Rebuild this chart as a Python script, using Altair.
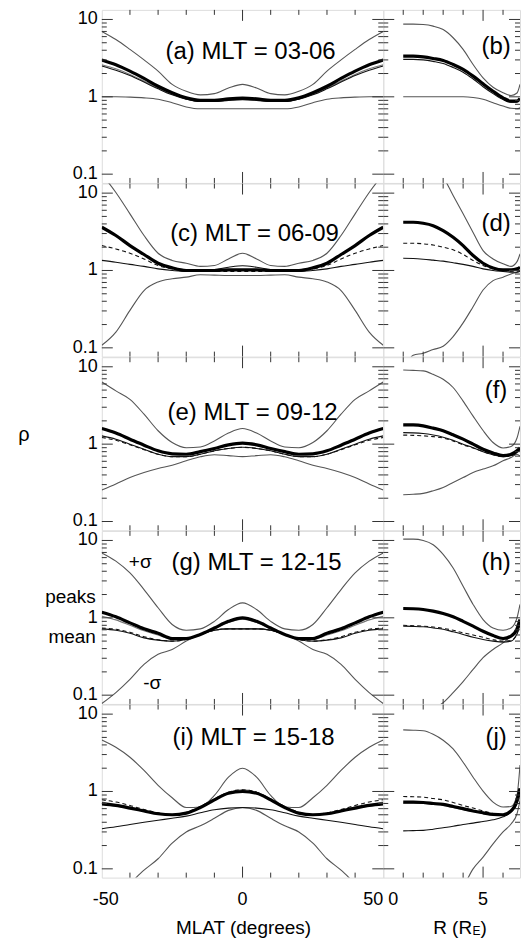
import altair as alt
import pandas as pd

FONT = "Liberation Sans"

# ---------------- data ----------------
MLAT = [-50, -45, -40, -35, -30, -25, -20, -15, -10, -5, 0, 5, 10, 15, 20, 25, 30, 35, 40, 45, 50]
R = [1, 1.5, 2, 2.5, 3, 3.5, 4, 4.5, 5, 5.5, 6, 6.4, 6.7, 6.85]

# (a) MLT 03-06
a_plus = [7.0, 5.5, 4.1, 3.0, 2.15, 1.45, 1.18, 1.06, 1.1, 1.3, 1.45, 1.3, 1.1, 1.06, 1.18, 1.45, 2.15, 3.0, 4.1, 5.5, 7.0]
a_peak = [3.0, 2.6, 2.15, 1.73, 1.37, 1.13, 0.97, 0.9, 0.9, 0.94, 0.96, 0.94, 0.9, 0.9, 0.97, 1.13, 1.37, 1.73, 2.15, 2.6, 3.0]
a_near = [2.6, 2.3, 1.95, 1.6, 1.3, 1.08, 0.94, 0.88, 0.88, 0.91, 0.93, 0.91, 0.88, 0.88, 0.94, 1.08, 1.3, 1.6, 1.95, 2.3, 2.6]
a_mean = [2.5, 2.2, 1.88, 1.55, 1.27, 1.06, 0.93, 0.87, 0.87, 0.9, 0.92, 0.9, 0.87, 0.87, 0.93, 1.06, 1.27, 1.55, 1.88, 2.2, 2.5]
a_minus = [1.0, 1.0, 0.99, 0.97, 0.93, 0.84, 0.74, 0.7, 0.7, 0.7, 0.7, 0.7, 0.7, 0.7, 0.74, 0.84, 0.93, 0.97, 0.99, 1.0, 1.0]
# (b)
b_plus = [8.7, 8.7, 8.6, 8.2, 7.4, 5.8, 4.1, 2.62, 1.76, 1.33, 1.13, 1.04, 1.12, 1.45]
b_peak = [3.35, 3.35, 3.28, 3.13, 2.95, 2.62, 2.26, 1.85, 1.47, 1.18, 0.97, 0.88, 0.88, 0.95]
b_mean = [3.05, 3.05, 3.0, 2.87, 2.7, 2.4, 2.08, 1.7, 1.35, 1.1, 0.92, 0.85, 0.86, 0.93]
b_minus = [1.0, 1.0, 1.0, 1.0, 1.0, 1.0, 1.0, 0.98, 0.93, 0.84, 0.76, 0.71, 0.7, 0.72]

# (c) MLT 06-09
c_plus = [17.6, 10.2, 5.4, 2.83, 1.67, 1.35, 1.24, 1.13, 1.16, 1.41, 1.67, 1.41, 1.16, 1.13, 1.24, 1.35, 1.67, 2.83, 5.4, 10.2, 17.6]
c_peak = [3.62, 2.83, 2.1, 1.61, 1.24, 1.08, 1.0, 1.0, 1.0, 1.02, 1.02, 1.02, 1.0, 1.0, 1.0, 1.08, 1.24, 1.61, 2.1, 2.83, 3.62]
c_dash = [2.1, 1.9, 1.67, 1.41, 1.16, 1.05, 0.98, 0.97, 0.97, 0.97, 0.97, 0.97, 0.97, 0.97, 0.98, 1.05, 1.16, 1.41, 1.67, 1.9, 2.1]
c_mean = [1.35, 1.28, 1.2, 1.13, 1.05, 1.0, 0.97, 0.98, 1.03, 1.1, 1.15, 1.1, 1.03, 0.98, 0.97, 1.0, 1.05, 1.13, 1.2, 1.28, 1.35]
c_minus = [0.108, 0.16, 0.305, 0.55, 0.71, 0.78, 0.82, 0.88, 0.87, 0.86, 0.86, 0.86, 0.87, 0.88, 0.82, 0.78, 0.71, 0.55, 0.305, 0.16, 0.108]
# (d)
d_plus = [30, 28, 25, 20, 16, 9.3, 5.4, 3.1, 1.81, 1.41, 1.22, 1.13, 1.3, 1.64]
d_peak = [4.2, 4.2, 4.08, 3.8, 3.28, 2.69, 2.1, 1.56, 1.24, 1.08, 1.02, 1.02, 1.05, 1.1]
d_dash = [2.25, 2.25, 2.21, 2.14, 2.0, 1.85, 1.61, 1.35, 1.16, 1.05, 1.0, 0.98, 0.98, 1.0]
d_mean = [1.44, 1.43, 1.4, 1.36, 1.32, 1.26, 1.2, 1.13, 1.05, 1.0, 0.97, 0.95, 0.95, 0.97]
d_minus = [0.05, 0.08, 0.085, 0.095, 0.105, 0.14, 0.21, 0.34, 0.56, 0.74, 0.82, 0.9, 0.95, 0.98]

# (e) MLT 09-12
e_plus = [6.36, 4.88, 3.8, 2.44, 1.49, 1.05, 0.9, 0.92, 1.1, 1.39, 1.59, 1.39, 1.1, 0.92, 0.9, 1.05, 1.49, 2.44, 3.8, 4.88, 6.36]
e_peak = [1.59, 1.39, 1.16, 0.97, 0.82, 0.75, 0.74, 0.8, 0.88, 0.98, 1.03, 0.98, 0.88, 0.8, 0.74, 0.75, 0.82, 0.97, 1.16, 1.39, 1.59]
e_mean = [1.28, 1.16, 1.0, 0.86, 0.74, 0.69, 0.69, 0.74, 0.82, 0.88, 0.91, 0.88, 0.82, 0.74, 0.69, 0.69, 0.74, 0.86, 1.0, 1.16, 1.28]
e_dash = [1.22, 1.12, 0.98, 0.85, 0.74, 0.69, 0.69, 0.74, 0.82, 0.88, 0.91, 0.88, 0.82, 0.74, 0.69, 0.69, 0.74, 0.85, 0.98, 1.12, 1.22]
e_minus = [0.255, 0.305, 0.37, 0.43, 0.485, 0.535, 0.61, 0.686, 0.73, 0.71, 0.69, 0.71, 0.73, 0.686, 0.61, 0.535, 0.485, 0.43, 0.37, 0.305, 0.255]
# (f)
f_plus = [9.1, 9.0, 8.85, 8.0, 6.9, 5.4, 3.6, 2.3, 1.5, 1.05, 0.89, 0.93, 1.2, 1.7]
f_peak = [1.78, 1.77, 1.72, 1.61, 1.49, 1.32, 1.16, 1.0, 0.86, 0.77, 0.71, 0.74, 0.82, 0.9]
f_mean = [1.41, 1.4, 1.37, 1.31, 1.23, 1.12, 1.0, 0.9, 0.8, 0.73, 0.69, 0.71, 0.78, 0.86]
f_dash = [1.31, 1.3, 1.28, 1.25, 1.2, 1.1, 0.98, 0.89, 0.8, 0.73, 0.69, 0.71, 0.78, 0.86]
f_minus = [0.222, 0.225, 0.231, 0.25, 0.276, 0.32, 0.37, 0.43, 0.476, 0.525, 0.61, 0.67, 0.74, 0.7]

# (g) MLT 12-15
g_plus = [6.9, 5.4, 3.8, 2.32, 1.35, 0.82, 0.69, 0.72, 0.9, 1.28, 1.56, 1.28, 0.9, 0.72, 0.69, 0.82, 1.35, 2.32, 3.8, 5.4, 6.9]
g_peak = [1.18, 1.03, 0.86, 0.72, 0.63, 0.54, 0.54, 0.61, 0.74, 0.9, 1.0, 0.9, 0.74, 0.61, 0.54, 0.54, 0.63, 0.72, 0.86, 1.03, 1.18]
g_near = [1.05, 0.94, 0.8, 0.68, 0.6, 0.53, 0.53, 0.6, 0.72, 0.87, 0.96, 0.87, 0.72, 0.6, 0.53, 0.53, 0.6, 0.68, 0.8, 0.94, 1.05]
g_mean = [0.72, 0.69, 0.63, 0.55, 0.515, 0.5, 0.525, 0.61, 0.69, 0.72, 0.72, 0.72, 0.69, 0.61, 0.525, 0.5, 0.515, 0.55, 0.63, 0.69, 0.72]
g_dash = [0.74, 0.71, 0.65, 0.57, 0.52, 0.5, 0.525, 0.61, 0.69, 0.72, 0.72, 0.72, 0.69, 0.61, 0.525, 0.5, 0.52, 0.57, 0.65, 0.71, 0.74]
g_minus = [0.078, 0.108, 0.16, 0.25, 0.337, 0.39, 0.5, 0.61, 0.69, 0.72, 0.72, 0.72, 0.69, 0.61, 0.5, 0.39, 0.337, 0.25, 0.16, 0.108, 0.078]
# (h)
h_plus = [10.4, 10.4, 10.0, 8.8, 6.6, 4.4, 2.56, 1.49, 0.95, 0.74, 0.69, 0.74, 1.0, 1.49]
h_peak = [1.32, 1.31, 1.28, 1.22, 1.14, 1.03, 0.9, 0.78, 0.67, 0.59, 0.54, 0.58, 0.72, 0.95]
h_mean = [0.78, 0.775, 0.765, 0.74, 0.71, 0.66, 0.61, 0.56, 0.525, 0.5, 0.485, 0.5, 0.62, 0.8]
h_dash = [0.8, 0.79, 0.78, 0.76, 0.73, 0.69, 0.64, 0.6, 0.56, 0.52, 0.5, 0.51, 0.62, 0.8]
h_minus = [0.03, 0.04, 0.05, 0.065, 0.08, 0.108, 0.15, 0.215, 0.305, 0.39, 0.475, 0.58, 0.7, 0.85]

# (i) MLT 15-18
i_plus = [4.64, 3.73, 2.77, 1.87, 1.2, 0.83, 0.62, 0.63, 0.89, 1.53, 2.0, 1.53, 0.89, 0.63, 0.62, 0.83, 1.2, 1.87, 2.77, 3.73, 4.64]
i_peak = [0.69, 0.66, 0.61, 0.56, 0.515, 0.5, 0.525, 0.62, 0.78, 0.95, 1.0, 0.95, 0.78, 0.62, 0.525, 0.5, 0.515, 0.56, 0.61, 0.66, 0.69]
i_near = [0.73, 0.68, 0.63, 0.57, 0.525, 0.5, 0.535, 0.64, 0.8, 0.98, 1.05, 0.98, 0.8, 0.64, 0.535, 0.5, 0.525, 0.57, 0.63, 0.68, 0.73]
i_dash = [0.78, 0.73, 0.66, 0.585, 0.53, 0.5, 0.535, 0.64, 0.8, 0.98, 1.05, 0.98, 0.8, 0.64, 0.535, 0.5, 0.53, 0.585, 0.66, 0.73, 0.78]
i_mean = [0.33, 0.35, 0.375, 0.4, 0.425, 0.45, 0.48, 0.53, 0.58, 0.61, 0.62, 0.61, 0.58, 0.53, 0.48, 0.45, 0.425, 0.4, 0.375, 0.35, 0.33]
i_minus = [0.025, 0.045, 0.065, 0.096, 0.135, 0.215, 0.3, 0.36, 0.45, 0.57, 0.615, 0.57, 0.45, 0.36, 0.3, 0.215, 0.135, 0.096, 0.065, 0.045, 0.025]
# (j)
j_plus = [6.25, 6.2, 6.1, 5.5, 4.6, 3.55, 2.39, 1.53, 1.01, 0.73, 0.63, 0.64, 0.9, 2.2]
j_peak = [0.73, 0.73, 0.72, 0.7, 0.68, 0.64, 0.6, 0.56, 0.53, 0.505, 0.5, 0.56, 0.77, 1.1]
j_near = [0.71, 0.71, 0.7, 0.68, 0.66, 0.62, 0.58, 0.55, 0.52, 0.5, 0.5, 0.56, 0.75, 1.0]
j_dash = [0.86, 0.855, 0.845, 0.81, 0.78, 0.72, 0.66, 0.61, 0.56, 0.52, 0.5, 0.55, 0.75, 1.0]
j_mean = [0.31, 0.312, 0.314, 0.325, 0.34, 0.355, 0.375, 0.39, 0.41, 0.43, 0.47, 0.54, 0.69, 0.93]
j_minus = [0.02, 0.025, 0.03, 0.035, 0.04, 0.05, 0.06, 0.1, 0.142, 0.21, 0.3, 0.38, 0.515, 0.77]

LEFT_TITLES = ["(a) MLT = 03-06", "(c) MLT = 06-09", "(e) MLT = 09-12", "(g) MLT = 12-15", "(i) MLT = 15-18"]
RIGHT_TITLES = ["(b)", "(d)", "(f)", "(h)", "(j)"]
Y_TICK_LABELS = ["0.1", "1", "10"]
Y_TICK_VALUES = [0.1, 1, 10]
Y_MINOR = [0.2, 0.3, 0.4, 0.5, 0.6, 0.7, 0.8, 0.9, 2, 3, 4, 5, 6, 7, 8, 9]
XL_MAJOR = [0]
XL_MINOR = [-40, -30, -20, -10, 10, 20, 30, 40]
XR_MAJOR = [5]
XR_MINOR = [1, 2, 3, 4, 6]

LEFT_CURVES = [
    dict(plus=a_plus, minus=a_minus, near=a_near, mean=a_mean, peak=a_peak),
    dict(plus=c_plus, minus=c_minus, mean=c_mean, dash=c_dash, peak=c_peak),
    dict(plus=e_plus, minus=e_minus, mean=e_mean, dash=e_dash, peak=e_peak),
    dict(plus=g_plus, minus=g_minus, near=g_near, mean=g_mean, dash=g_dash, peak=g_peak),
    dict(plus=i_plus, minus=i_minus, near=i_near, mean=i_mean, dash=i_dash, peak=i_peak),
]
RIGHT_CURVES = [
    dict(plus=b_plus, minus=b_minus, mean=b_mean, peak=b_peak),
    dict(plus=d_plus, minus=d_minus, mean=d_mean, dash=d_dash, peak=d_peak),
    dict(plus=f_plus, minus=f_minus, mean=f_mean, dash=f_dash, peak=f_peak),
    dict(plus=h_plus, minus=h_minus, mean=h_mean, dash=h_dash, peak=h_peak),
    dict(plus=j_plus, minus=j_minus, near=j_near, mean=j_mean, dash=j_dash, peak=j_peak),
]

# ---------------- layout / style ----------------
W_L, W_R, H = 282, 137, 173.4
YDOM = [0.077, 13.3]
TICK = "#333"
ORDER = ["plus", "minus", "near", "mean", "dash", "peak"]
STYLE = {
    "plus": dict(color="#555", strokeWidth=1.1),
    "minus": dict(color="#555", strokeWidth=1.1),
    "near": dict(color="#777", strokeWidth=1.1),
    "mean": dict(color="#111", strokeWidth=1.1),
    "dash": dict(color="#111", strokeWidth=1.1, strokeDash=[4, 3]),
    "peak": dict(color="#000", strokeWidth=3.2),
}
LEFT_TITLE_POS = [(149, 42.6), (153, 50.9), (151, 55.8), (155, 32.4), (152, 34)]
RIGHT_TITLE_POS = [(113, 37.6), (113, 40.9), (113, 34.2), (113, 32.4), (113, 34)]

one = pd.DataFrame({"k": [0]})


def text_at(txt, x, y, size=24, align="center", baseline="middle"):
    return alt.Chart(one).mark_text(text=txt, font=FONT, fontSize=size, align=align,
                                    baseline=baseline, color="#000").encode(
        x=alt.value(x), y=alt.value(y))


def panel(xvals, curves, xdom, width, xmaj, xmin, extras):
    xs = alt.Scale(domain=xdom, nice=False, zero=False)
    ys = alt.Scale(type="log", domain=YDOM, nice=False)
    layers = []
    for key in ORDER:
        if key in curves:
            df = pd.DataFrame({"x": xvals, "v": curves[key]})
            layers.append(alt.Chart(df).mark_line(clip=True, interpolate="monotone", **STYLE[key]).encode(
                x=alt.X("x:Q", scale=xs, axis=None), y=alt.Y("v:Q", scale=ys, axis=None)))
    for vals, ln in ((Y_TICK_VALUES, 11), (Y_MINOR, 5)):
        d = pd.DataFrame({"v": vals})
        layers.append(alt.Chart(d).mark_rule(color=TICK, strokeWidth=1).encode(
            y=alt.Y("v:Q", scale=ys, axis=None), x=alt.value(0), x2=alt.value(ln)))
        layers.append(alt.Chart(d).mark_rule(color=TICK, strokeWidth=1).encode(
            y=alt.Y("v:Q", scale=ys, axis=None), x=alt.value(width), x2=alt.value(width - ln)))
    for vals, ln in ((xmaj, 11), (xmin, 5)):
        d = pd.DataFrame({"x": vals})
        layers.append(alt.Chart(d).mark_rule(color=TICK, strokeWidth=1).encode(
            x=alt.X("x:Q", scale=xs, axis=None), y=alt.value(0), y2=alt.value(ln)))
        layers.append(alt.Chart(d).mark_rule(color=TICK, strokeWidth=1).encode(
            x=alt.X("x:Q", scale=xs, axis=None), y=alt.value(H), y2=alt.value(H - ln)))
    for e in extras:
        layers.append(e(xs, ys))
    return alt.layer(*layers).properties(width=width, height=H)


def ylabels(xs, ys):
    d = pd.DataFrame({"v": Y_TICK_VALUES, "lab": Y_TICK_LABELS})
    return alt.Chart(d).mark_text(font=FONT, fontSize=18, align="right", baseline="middle", color="#000").encode(
        y=alt.Y("v:Q", scale=ys, axis=None), x=alt.value(-4), text="lab:N")


def fixed(txt, x, y, **kw):
    return lambda xs, ys: text_at(txt, x, y, **kw)


panels = []
for r in range(5):
    lx, ly = LEFT_TITLE_POS[r]
    rx, ry = RIGHT_TITLE_POS[r]
    lext = [ylabels, fixed(LEFT_TITLES[r], lx, ly)]
    rext = [fixed(RIGHT_TITLES[r], rx, ry)]
    if r == 0:
        lext.append(lambda xs, ys: alt.Chart(one).mark_rule(strokeOpacity=0, strokeWidth=0).encode(
            x=alt.value(-101), x2=alt.value(-100), y=alt.value(-8.2)))
    if r == 2:
        lext.append(fixed("ρ", -78, 77.5, size=20))
    if r == 3:
        lext += [fixed("peaks", -6, 65.8, size=19, align="right"),
                 fixed("mean", -6, 106, size=19, align="right"),
                 fixed("+σ", 38.5, 30.8, size=19),
                 fixed("-σ", 50.5, 152.4, size=19)]
    if r == 4:
        lext += [fixed("-50", 4, H + 22.3, size=18),
                 fixed("0", W_L / 2, H + 22.3, size=18),
                 fixed("50", W_L, H + 22.3, size=18, align="right"),
                 fixed("MLAT (degrees)", 142, H + 50, size=19)]
        rext += [fixed("0", 5, H + 22.3, size=18, align="left"),
                 fixed("5", 100, H + 22.3, size=18),
                 fixed("R (R", 50, H + 50, size=19, align="left"),
                 fixed("E", 89.5, H + 53.5, size=12, align="left"),
                 fixed(")", 97.5, H + 50, size=19, align="left")]
    panels.append(panel(MLAT, LEFT_CURVES[r], [-50, 50], W_L, XL_MAJOR, XL_MINOR, lext))
    panels.append(panel(R, RIGHT_CURVES[r], [0, 6.85], W_R, XR_MAJOR, XR_MINOR, rext))

chart = alt.concat(*panels, columns=2, spacing=0, bounds="flush", align="each").properties(
    padding=0).configure_view(stroke="#333", strokeWidth=1.2).configure(background="white")

chart.save("out.html", embed_options={"renderer": "svg", "actions": False})
